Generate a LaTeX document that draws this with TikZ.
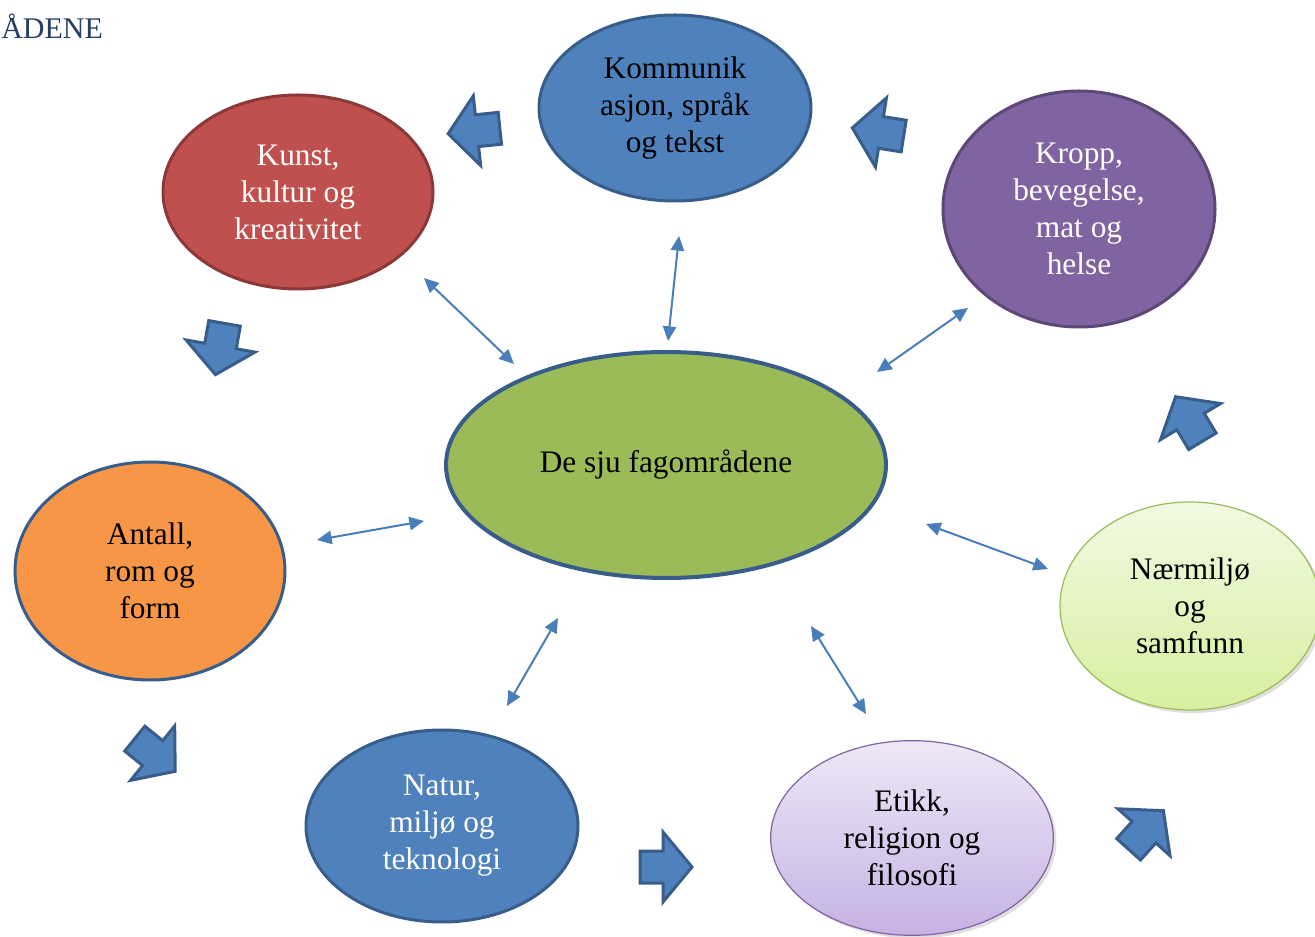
\documentclass[tikz,border=0pt]{standalone}
\usepackage{fontspec}
\setmainfont{Liberation Serif}
\usetikzlibrary{shapes.geometric,arrows.meta,shadows}

\definecolor{accblue}{RGB}{79,129,189}
\definecolor{accblueline}{RGB}{56,93,138}
\definecolor{accred}{RGB}{192,80,77}
\definecolor{accredline}{RGB}{140,56,54}
\definecolor{accgreen}{RGB}{155,187,89}
\definecolor{accpurple}{RGB}{128,100,162}
\definecolor{accpurpleline}{RGB}{92,71,118}
\definecolor{accorange}{RGB}{247,150,70}
\definecolor{arrowblue}{RGB}{74,126,187}
\definecolor{headblue}{RGB}{36,63,96}

\tikzset{
	omraade/.style={ellipse, inner sep=0pt, align=center, font=\fontsize{23.5}{27.8}\selectfont, line width=2.25pt},
	dblarrow/.style={arrowblue, line width=1.5pt, {Triangle[length=11pt,width=10pt]}-{Triangle[length=11pt,width=10pt]}},
	blkarrow/.pic={\draw[accblueline, fill=accblue, line width=2.25pt, line join=miter] (-26,-16) -- (-3,-16) -- (-3,-35) -- (26,0) -- (-3,35) -- (-3,16) -- (-26,16) -- cycle;}
}

\begin{document}
\begin{tikzpicture}[x=0.75pt,y=0.75pt,yscale=-1,xscale=1]
	\useasboundingbox (0,0) rectangle (1315,937);
	\node[anchor=west, inner sep=0pt, text=headblue, font=\fontsize{22.5}{26}\selectfont] (tittel) at (1,26) {ÅDENE};
	% ellipsene
	\node[omraade, draw=accblueline, fill=accgreen, line width=3pt, minimum width=330pt, minimum height=169.5pt] (midt) at (666,465) {De sju fagområdene};
	\node[omraade, draw=accblueline, fill=accblue, minimum width=204pt, minimum height=139.5pt] (kommunikasjon) at (675,108) {Kommunik\\asjon, språk\\og tekst};
	\node[omraade, draw=accredline, fill=accred, text=white, minimum width=202.5pt, minimum height=145.5pt] (kunst) at (298,192) {Kunst,\\kultur og\\kreativitet};
	\node[omraade, draw=accpurpleline, fill=accpurple, text=white, minimum width=204pt, minimum height=177pt] (kropp) at (1079,209) {Kropp,\\bevegelse,\\mat og\\helse};
	\node[omraade, draw=accblueline, fill=accorange, minimum width=202.5pt, minimum height=163.5pt] (antall) at (150,571) {Antall,\\rom og\\form};
	\node[omraade, draw=accblueline, fill=accblue, text=white, minimum width=204pt, minimum height=144pt] (natur) at (442,826) {Natur,\\miljø og\\teknologi};
	\node[omraade, draw=accpurple, line width=0.9pt, top color={rgb,255:red,238;green,232;blue,246}, bottom color={rgb,255:red,198;green,178;blue,228}, drop shadow={opacity=0.25}, minimum width=212pt, minimum height=146pt] (etikk) at (912,838) {Etikk,\\religion og\\filosofi};
	\node[omraade, draw=accgreen, line width=0.9pt, top color={rgb,255:red,242;green,249;blue,226}, bottom color={rgb,255:red,214;green,240;blue,160}, drop shadow={opacity=0.25}, minimum width=195pt, minimum height=156pt] (naermiljo) at (1190,606) {Nærmiljø\\og\\samfunn};
	% piler mellom midten og omraadene
	\coordinate (kunstA) at (424,278);
	\coordinate (kunstB) at (514,364);
	\coordinate (kommA) at (679,236);
	\coordinate (kommB) at (668,341);
	\coordinate (kroppA) at (968,308);
	\coordinate (kroppB) at (877,372);
	\coordinate (antallA) at (317,540);
	\coordinate (antallB) at (424,521);
	\coordinate (naerA) at (926,524);
	\coordinate (naerB) at (1048,569);
	\coordinate (naturA) at (558,618);
	\coordinate (naturB) at (507,706);
	\coordinate (etikkA) at (811,626);
	\coordinate (etikkB) at (866,714);
	\draw[dblarrow] (kunstA) -- (kunstB);
	\draw[dblarrow] (kommA) -- (kommB);
	\draw[dblarrow] (kroppA) -- (kroppB);
	\draw[dblarrow] (antallA) -- (antallB);
	\draw[dblarrow] (naerA) -- (naerB);
	\draw[dblarrow] (naturA) -- (naturB);
	\draw[dblarrow] (etikkA) -- (etikkB);
	% blokkpiler rundt
	\pic[rotate=-174] at (474,131) {blkarrow};
	\pic[rotate=-189] at (878,132) {blkarrow};
	\pic[rotate=-100] at (220,349) {blkarrow};
	\pic[rotate=-39] at (155,755) {blkarrow};
	\pic at (666,867) {blkarrow};
	\pic[rotate=48] at (1146,830) {blkarrow};
	\pic[rotate=-239] at (1189,419) {blkarrow};
\end{tikzpicture}
\end{document}
